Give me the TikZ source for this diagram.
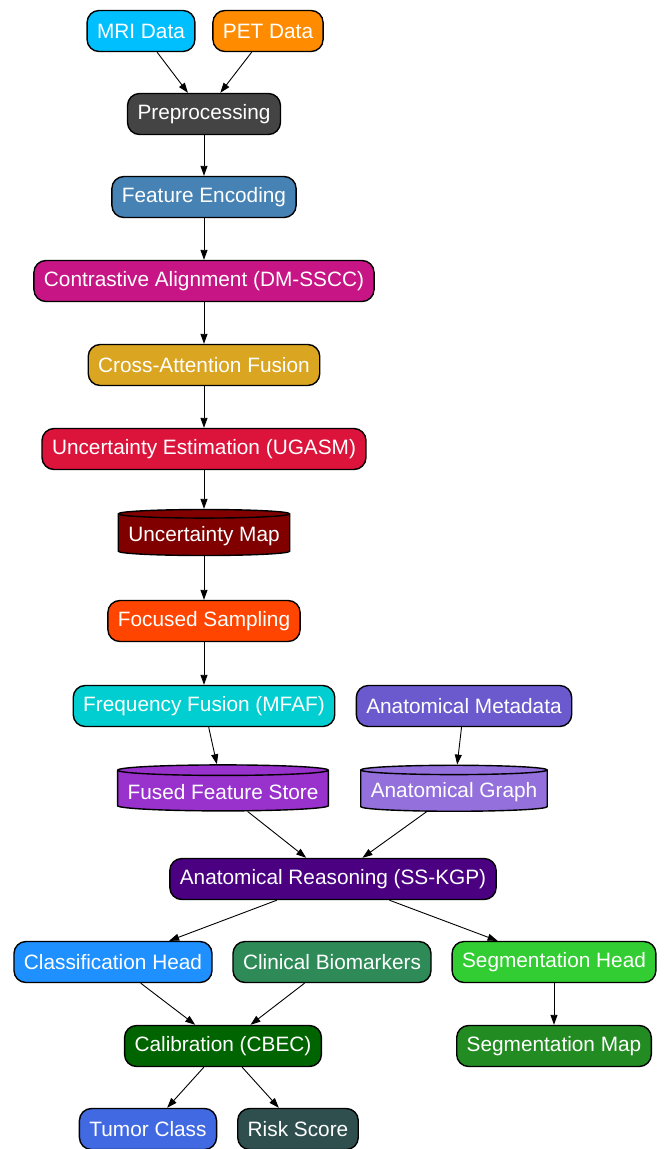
\documentclass[tikz,border=0pt]{standalone}
\usepackage{fontspec}
\setmainfont{Liberation Sans}
\usetikzlibrary{arrows.meta,shapes.geometric}
\definecolor{deepsky}{RGB}{0,191,255}
\definecolor{darkorng}{RGB}{255,140,0}
\definecolor{prepgray}{RGB}{68,68,68}
\definecolor{steelbl}{RGB}{70,130,180}
\definecolor{mvred}{RGB}{199,21,133}
\definecolor{goldrod}{RGB}{218,165,32}
\definecolor{crimsn}{RGB}{220,20,60}
\definecolor{maroonc}{RGB}{128,0,0}
\definecolor{orangered}{RGB}{255,69,0}
\definecolor{dturq}{RGB}{0,206,209}
\definecolor{slateb}{RGB}{106,90,205}
\definecolor{dorchid}{RGB}{153,50,204}
\definecolor{mpurple}{RGB}{147,112,219}
\definecolor{indigoc}{RGB}{75,0,130}
\definecolor{dodgerb}{RGB}{30,144,255}
\definecolor{seagrn}{RGB}{46,139,87}
\definecolor{limegrn}{RGB}{50,205,50}
\definecolor{dgreen}{RGB}{0,100,0}
\definecolor{fgreen}{RGB}{34,139,34}
\definecolor{royalb}{RGB}{65,105,225}
\definecolor{dslate}{RGB}{47,79,79}
\begin{document}
\begin{tikzpicture}[x=1pt, y=-1pt,
	box/.style={draw=black, line width=1.4pt, rounded corners=12pt, text=white,
		font=\fontsize{20.8}{24}\selectfont, inner xsep=10pt, minimum height=41pt},
	store/.style={draw=black, line width=1.4pt, cylinder, shape border rotate=90,
		aspect=0.05, text=white, font=\fontsize{20.8}{24}\selectfont,
		inner xsep=10pt, minimum height=46pt},
	flow/.style={line width=0.9pt, -{Triangle[length=10pt,width=7pt]}}]
			\useasboundingbox (0,0) rectangle (665,1149);
			% inputs
			\node[box, fill=deepsky] (mri) at (141,31) {MRI Data};
			\node[box, fill=darkorng] (pet) at (268,31) {PET Data};
			% main chain
			\node[box, fill=prepgray] (prep) at (204,114) {Preprocessing};
			\node[box, fill=steelbl] (enc) at (204,197) {Feature Encoding};
			\node[box, fill=mvred] (align) at (204,281) {Contrastive Alignment (DM-SSCC)};
			\node[box, fill=goldrod] (xatt) at (204,365) {Cross-Attention Fusion};
			\node[box, fill=crimsn] (unc) at (204,449) {Uncertainty Estimation (UGASM)};
			\node[store, fill=maroonc] (umap) at (204,536) {Uncertainty Map};
			\node[box, fill=orangered] (focus) at (204,621) {Focused Sampling};
			\node[box, fill=dturq] (freq) at (204,706) {Frequency Fusion (MFAF)};
			\node[box, fill=slateb] (meta) at (464,706) {Anatomical Metadata};
			\node[store, fill=dorchid] (fstore) at (223,792) {Fused Feature Store};
			\node[store, fill=mpurple] (agraph) at (454,792) {Anatomical Graph};
			\node[box, fill=indigoc] (reason) at (333,879) {Anatomical Reasoning (SS-KGP)};
			% heads
			\node[box, fill=dodgerb] (cls) at (113,962) {Classification Head};
			\node[box, fill=seagrn] (bio) at (332,962) {Clinical Biomarkers};
			\node[box, fill=limegrn] (seg) at (554,962) {Segmentation Head};
			\node[box, fill=dgreen] (calib) at (223,1046) {Calibration (CBEC)};
			\node[box, fill=fgreen] (segmap) at (554,1046) {Segmentation Map};
			\node[box, fill=royalb] (tumor) at (148,1129) {Tumor Class};
			\node[box, fill=dslate] (risk) at (298,1129) {Risk Score};
			% edges
			\draw[flow] (mri) -- (prep);
			\draw[flow] (pet) -- (prep);
			\draw[flow] (prep) -- (enc);
			\draw[flow] (enc) -- (align);
			\draw[flow] (align) -- (xatt);
			\draw[flow] (xatt) -- (unc);
			\draw[flow] (unc) -- (umap);
			\draw[flow] (umap) -- (focus);
			\draw[flow] (focus) -- (freq);
			\draw[flow] (freq) -- (fstore);
			\draw[flow] (meta) -- (agraph);
			\draw[flow] (fstore) -- (reason);
			\draw[flow] (agraph) -- (reason);
			\draw[flow] (reason) -- (cls);
			\draw[flow] (reason) -- (seg);
			\draw[flow] (cls) -- (calib);
			\draw[flow] (bio) -- (calib);
			\draw[flow] (seg) -- (segmap);
			\draw[flow] (calib) -- (tumor);
			\draw[flow] (calib) -- (risk);
		\end{tikzpicture}
\end{document}
